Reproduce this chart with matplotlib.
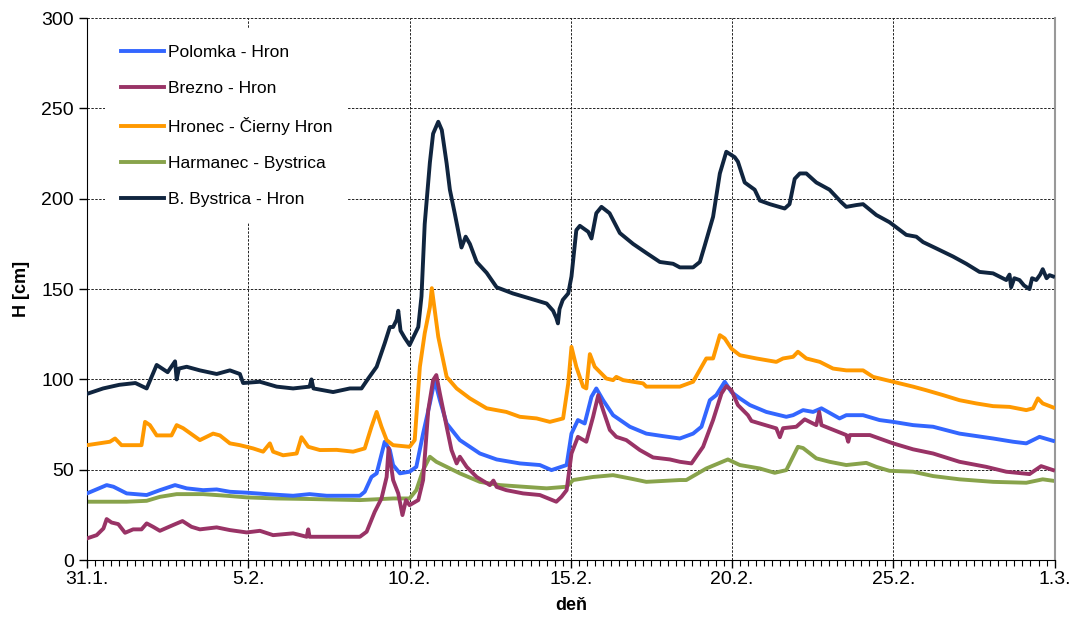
import matplotlib.pyplot as plt
from matplotlib.ticker import MultipleLocator

plt.rcParams['font.family'] = ['Liberation Sans', 'DejaVu Sans']

# days since 31.1. and water level H [cm]
bb_day = [0.0, 0.5, 1.0, 1.5, 1.85, 2.16, 2.5, 2.73, 2.78, 2.85, 3.09, 3.5, 4.02, 4.43, 4.74, 4.84,
          5.36, 5.88, 6.39, 6.9, 6.96, 7.02, 7.63, 8.15, 8.51, 8.72, 8.98, 9.23, 9.39, 9.49, 9.6, 9.65,
          9.72, 9.85, 10.0, 10.27, 10.37, 10.47, 10.63, 10.73, 10.89, 11.0, 11.15, 11.25, 11.4, 11.61,
          11.74, 11.87, 12.08, 12.39, 12.7, 13.2, 13.73, 14.25, 14.45, 14.55, 14.6, 14.65, 14.75, 14.92,
          15.02, 15.17, 15.28, 15.54, 15.64, 15.79, 15.95, 16.2, 16.52, 16.93, 17.34, 17.76, 18.17, 18.38,
          18.79, 19.0, 19.15, 19.41, 19.62, 19.82, 20.08, 20.18, 20.39, 20.7, 20.86, 21.17, 21.63, 21.78,
          21.94, 22.1, 22.3, 22.61, 23.02, 23.39, 23.54, 23.85, 24.06, 24.47, 24.88, 25.4, 25.71, 25.92,
          26.33, 26.85, 27.26, 27.67, 28.09, 28.5, 28.6, 28.65, 28.75, 28.91, 29.05, 29.22, 29.3, 29.43,
          29.55, 29.63, 29.75, 29.84, 29.95]
bb_val = [92, 95, 97, 98, 95, 108, 104, 110, 100, 106, 107, 105, 103, 105, 103, 98,
          98.7, 96, 95, 96, 100, 95, 93, 95, 95, 100.5, 107, 120, 129, 129, 133, 138,
          127, 123, 119, 129, 146, 186, 220, 236, 242.6, 238, 219.5, 205, 192, 173,
          179, 175, 165, 159, 151, 147.6, 144.8, 142, 138, 134, 131, 139, 144, 147.6,
          157, 182.6, 185, 181.7, 178, 192, 195.5, 192, 181, 175, 170, 165, 164, 162,
          162, 165, 174, 190, 214, 226, 223, 220.5, 209, 205, 199, 197, 194.6, 197,
          211, 214, 214, 209, 205, 198, 195.5, 196.5, 197, 191, 187, 180, 179, 176,
          172.5, 168, 164, 159.5, 158.7, 155, 158, 151, 156, 155, 152, 150, 156, 155,
          158, 161, 156, 157.7, 157]

hr_day = [0.0, 0.71, 0.87, 1.07, 1.69, 1.8, 1.95, 2.16, 2.62, 2.78, 2.98, 3.5, 3.91, 4.12, 4.43,
          4.74, 5.15, 5.46, 5.67, 5.77, 6.08, 6.5, 6.65, 6.86, 7.22, 7.74, 8.25, 8.61, 8.82, 8.98,
          9.13, 9.29, 9.49, 10.0, 10.16, 10.32, 10.47, 10.63, 10.69, 10.89, 11.15, 11.46, 11.87, 12.39,
          13.0, 13.42, 13.94, 14.35, 14.76, 14.92, 15.02, 15.17, 15.38, 15.48, 15.59, 15.74, 16.1, 16.31,
          16.41, 16.62, 17.24, 17.34, 18.38, 18.79, 19.2, 19.41, 19.62, 19.77, 19.98, 20.24, 20.75, 21.37,
          21.58, 21.89, 22.04, 22.3, 22.72, 23.13, 23.54, 24.06, 24.37, 24.99, 25.61, 26.02, 26.54, 27.05,
          27.57, 28.09, 28.6, 29.12, 29.33, 29.48, 29.63, 29.95]
hr_val = [63.6, 65.5, 67.3, 63.6, 63.6, 76.5, 74.7, 69, 69, 74.7, 73, 66.4, 70, 69, 64.6,
          63.6, 61.8, 60, 64.6, 60, 58, 59, 68, 62.7, 60.9, 61, 60, 61.8, 73.8, 82,
          73.8, 66.4, 63.6, 62.7, 66.4, 107, 125.5, 140, 150.5, 123.6, 101.4, 95, 89.5, 84,
          82, 79.3, 78.4, 76.5, 78.4, 97.8, 118, 107, 96, 95, 114, 107, 100.5, 99.6,
          101.4, 99.6, 97.8, 96, 96, 98.7, 111.6, 111.6, 124.5, 122.7, 117, 113.4, 111.6, 109.7,
          111.6, 112.5, 115.3, 111.6, 109.7, 106, 105, 105, 101.4, 98.7, 96, 94, 91.3, 88.5,
          86.7, 85.2, 84.8, 83, 84, 89.5, 86.7, 84.5]

po_day = [0.0, 0.61, 0.82, 1.23, 1.85, 2.26, 2.73, 3.09, 3.6, 4.02, 4.43, 4.95, 5.57, 6.39, 6.9,
          7.43, 8.46, 8.61, 8.82, 8.98, 9.23, 9.39, 9.49, 9.7, 10.0, 10.21, 10.42, 10.63, 10.78, 10.94,
          11.15, 11.56, 12.18, 12.7, 13.42, 14.04, 14.4, 14.87, 15.02, 15.22, 15.43, 15.64, 15.79, 16.0,
          16.31, 16.83, 17.34, 17.86, 18.38, 18.79, 19.05, 19.31, 19.51, 19.77, 19.98, 20.24, 20.55, 21.06,
          21.68, 21.89, 22.2, 22.51, 22.77, 23.33, 23.54, 24.06, 24.57, 24.99, 25.61, 26.23, 27.05, 28.09,
          28.71, 29.12, 29.53, 29.95]
po_val = [36.9, 41.5, 40.6, 36.9, 36, 38.7, 41.5, 39.7, 38.7, 39.1, 37.8, 37.3, 36.5, 35.6, 36.5,
          35.6, 35.6, 37.8, 46, 48, 65.5, 60.9, 52.6, 48, 48.9, 51.6, 70, 86.7, 99.6, 88.5,
          75.6, 66.4, 59, 55.7, 53.5, 52.6, 49.8, 52.6, 70, 77.5, 75.6, 90.4, 95, 88.5,
          80.2, 73.8, 70, 68.6, 67.3, 70, 73.8, 88.5, 91.3, 98.7, 93, 89.5, 85.8, 82,
          79.3, 80.2, 83, 82, 84, 78.4, 80.2, 80.2, 77.5, 76.5, 74.7, 73.8, 70, 67.3,
          65.5, 64.6, 68.2, 66]

br_day = [0.0, 0.3, 0.51, 0.61, 0.76, 0.97, 1.18, 1.43, 1.69, 1.85, 2.05, 2.26, 2.67, 2.96, 3.24,
          3.5, 4.02, 4.43, 4.95, 5.36, 5.77, 6.39, 6.81, 6.86, 6.9, 7.43, 8.46, 8.67, 8.92, 9.13,
          9.29, 9.35, 9.49, 9.65, 9.78, 9.89, 10.0, 10.27, 10.42, 10.58, 10.73, 10.83, 10.94, 11.15,
          11.3, 11.46, 11.56, 11.77, 12.08, 12.49, 12.6, 12.7, 13.0, 13.52, 14.04, 14.55, 14.71, 14.87,
          15.02, 15.22, 15.48, 15.69, 15.85, 16.0, 16.21, 16.41, 16.72, 17.14, 17.55, 18.07, 18.38, 18.74,
          19.1, 19.41, 19.67, 19.82, 19.98, 20.18, 20.49, 20.6, 20.86, 21.37, 21.48, 21.58, 21.99, 22.25,
          22.61, 22.7, 22.77, 23.02, 23.54, 23.6, 23.65, 24.27, 24.99, 25.61, 26.23, 27.05, 27.88, 28.5,
          29.22, 29.58, 29.95]
br_val = [12, 13.8, 17.5, 22.7, 20.8, 19.9, 15.1, 17, 17, 20.3, 18.4, 16.2, 19.4, 21.6, 18.4,
          17, 18.1, 16.6, 15.3, 16.2, 13.8, 14.8, 12.9, 17, 12.9, 12.9, 12.9, 15.7, 26.7, 34.1,
          46, 62, 44.3, 36.9, 24.9, 33.2, 30.4, 33.2, 44.3, 83, 99.6, 102.4, 92.2, 73.8,
          60.9, 53.5, 57.2, 51.6, 46, 41.5, 44, 40.5, 38.7, 36.9, 36, 32.3, 35, 38.7,
          59, 68.2, 65.5, 79.3, 91.3, 83, 72, 68.2, 66.4, 60.9, 56.8, 55.7, 54.4, 53.5,
          62.7, 77.5, 92.2, 96.3, 94, 85.8, 80.2, 77, 75.6, 72.9, 68, 73, 73.8, 77.9,
          74.7, 82, 74.7, 72.9, 69.2, 65.5, 69.2, 69.2, 64.6, 61.3, 59, 54.4, 51.6, 48.9,
          47.6, 52, 49.8]

ha_day = [0.0, 1.23, 1.85, 2.26, 2.78, 3.6, 4.33, 4.95, 5.88, 6.91, 8.46, 9.49, 10.0, 10.21, 10.42,
          10.63, 10.83, 11.15, 11.56, 12.18, 12.8, 13.52, 14.25, 14.87, 15.07, 15.69, 16.31, 16.83, 17.34,
          18.38, 18.58, 19.2, 19.87, 20.24, 20.86, 21.32, 21.68, 22.04, 22.2, 22.61, 23.02, 23.54, 24.16,
          24.47, 24.88, 25.61, 26.23, 27.05, 28.09, 29.12, 29.63, 29.95]
ha_val = [32.3, 32.3, 32.8, 35, 36.5, 36.5, 35.6, 34.7, 34.1, 33.8, 33.2, 34.1, 34.1, 38.7, 49.8,
          57.2, 54.4, 51.6, 48, 43.3, 41.5, 40.6, 39.7, 40.6, 44.3, 46, 47, 45.2, 43.3,
          44.3, 44.3, 50.7, 55.7, 52.6, 50.7, 48.3, 49.8, 62.7, 62, 56.3, 54.4, 52.6, 53.8,
          51.6, 49.4, 48.9, 46.5, 44.7, 43.3, 42.8, 44.7, 43.9]

tick_labels = ['31.1.', '5.2.', '10.2.', '15.2.', '20.2.', '25.2.', '1.3.']

fig = plt.figure(figsize=(10.74, 6.23), dpi=100)
ax = fig.add_axes([0.081, 0.101, 0.901, 0.870])

lw = 2.8
ax.plot(po_day, po_val, color='#3366ff', lw=lw, label='Polomka - Hron', zorder=3)
ax.plot(br_day, br_val, color='#993366', lw=lw, label='Brezno - Hron', zorder=3)
ax.plot(hr_day, hr_val, color='#ff9900', lw=lw, label='Hronec - Čierny Hron', zorder=3)
ax.plot(ha_day, ha_val, color='#88a34b', lw=lw, label='Harmanec - Bystrica', zorder=2.5)
ax.plot(bb_day, bb_val, color='#10253f', lw=lw, label='B. Bystrica - Hron', zorder=3)

ax.set_xlim(0, 30)
ax.set_ylim(0, 300)
ax.set_xticks(range(0, 31, 5))
ax.set_xticklabels(tick_labels)
ax.xaxis.set_minor_locator(MultipleLocator(0.25))
ax.set_yticks(range(0, 301, 50))

ax.grid(True, which='major', color='#222222', linestyle=(0, (2.5, 1.5)), lw=0.7)
ax.set_axisbelow(True)
ax.tick_params(axis='both', which='major', labelsize=14, direction='out', length=6, width=1)
ax.tick_params(axis='x', which='minor', direction='out', length=4, width=0.8)
ax.tick_params(axis='x', pad=2)

ax.spines['top'].set_visible(False)
ax.spines['right'].set_color('#999999')
ax.spines['right'].set_linewidth(1.5)

ax.set_ylabel('H [cm]', fontsize=13, fontweight='bold', labelpad=8)
ax.set_xlabel('deň', fontsize=13, fontweight='bold', labelpad=6)

leg = ax.legend(loc='upper left', bbox_to_anchor=(0.01, 0.995), frameon=True, fontsize=12.5,
                handlelength=2.5, handletextpad=0.2, labelspacing=1.2, borderpad=0.9,
                fancybox=False)
leg.get_frame().set_edgecolor('none')
leg.get_frame().set_facecolor('white')
leg.get_frame().set_alpha(1.0)

fig.savefig('out.png', dpi=100)
